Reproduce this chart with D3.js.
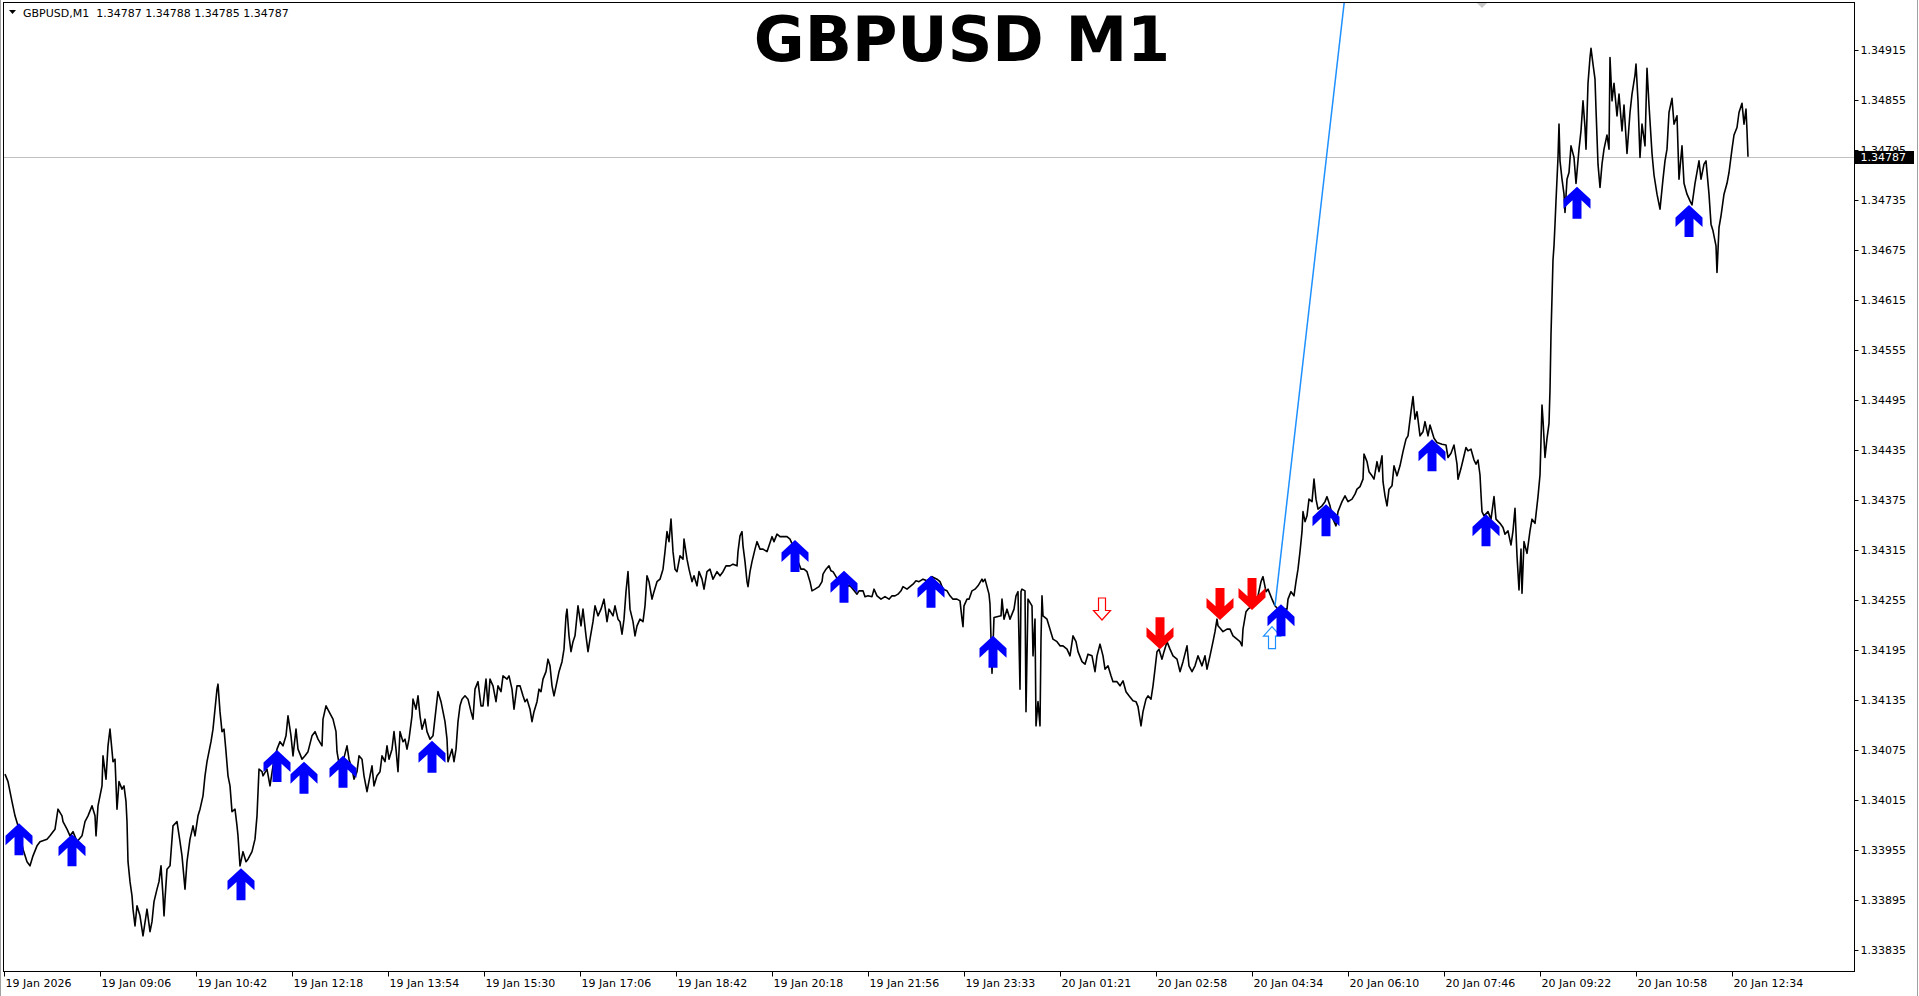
<!DOCTYPE html>
<head>
    <meta charset="utf-8">
    <script src="https://d3js.org/d3.v7.min.js"></script>
    <style>
        html, body { margin: 0; padding: 0; background: #fff; }
        svg { display: block; }
        text { font-family: "DejaVu Sans", sans-serif; }
        .axis text { font-size: 11px; fill: #000; }
        .axis line { stroke: #000; }
    </style>
</head>
<body>
<svg width="1919" height="996"></svg>
<script>
    // header / title
    var symbolName = "GBPUSD,M1";
    var lastQuote = ["1.34787", "1.34788", "1.34785", "1.34787"];
    var chartTitle = "GBPUSD M1";
    var lastPrice = 1.34787;

    // right price scale
    var priceTicks = [1.34915, 1.34855, 1.34795, 1.34735, 1.34675, 1.34615, 1.34555, 1.34495, 1.34435,
        1.34375, 1.34315, 1.34255, 1.34195, 1.34135, 1.34075, 1.34015, 1.33955, 1.33895, 1.33835];

    // time scale: bars counted in minutes from the first bar
    var timeTickBars = [0, 96, 192, 288, 384, 480, 576, 672, 768, 864, 960, 1056, 1152, 1248, 1344, 1440, 1536, 1632, 1728];
    var timeLabels = ["19 Jan 2026", "19 Jan 09:06", "19 Jan 10:42", "19 Jan 12:18", "19 Jan 13:54", "19 Jan 15:30",
        "19 Jan 17:06", "19 Jan 18:42", "19 Jan 20:18", "19 Jan 21:56", "19 Jan 23:33", "20 Jan 01:21",
        "20 Jan 02:58", "20 Jan 04:34", "20 Jan 06:10", "20 Jan 07:46", "20 Jan 09:22", "20 Jan 10:58", "20 Jan 12:34"];

    // close prices [bar, price]
    var closeSeries = [
        [1,1.34046],[4,1.34037],[8,1.34013],[11,1.33996],[14,1.33984],[19,1.33956],[23,1.33941],[26,1.33936],[29,1.33948],[33,1.33960],
        [36,1.33965],[43,1.33968],[46,1.33972],[49,1.33977],[51,1.33980],[54,1.34004],[58,1.33996],[59,1.33989],[63,1.33980],[66,1.33972],
        [69,1.33977],[73,1.33965],[78,1.33972],[81,1.33989],[84,1.33996],[88,1.34008],[91,1.33996],[92,1.33972],[94,1.34008],[98,1.34032],
        [99,1.34068],[102,1.34040],[104,1.34080],[106,1.34100],[109,1.34061],[111,1.34064],[113,1.34004],[115,1.34037],[118,1.34028],[120,1.34032],
        [122,1.34013],[123,1.33989],[124,1.33941],[126,1.33917],[128,1.33900],[129,1.33884],[131,1.33864],[133,1.33888],[136,1.33876],[139,1.33852],
        [143,1.33884],[146,1.33857],[148,1.33869],[150,1.33893],[153,1.33908],[155,1.33917],[157,1.33936],[159,1.33900],[160,1.33876],[161,1.33896],
        [163,1.33932],[166,1.33936],[169,1.33984],[173,1.33989],[176,1.33965],[178,1.33948],[181,1.33908],[183,1.33941],[186,1.33968],[189,1.33984],
        [191,1.33972],[194,1.33996],[196,1.34004],[199,1.34020],[201,1.34044],[203,1.34061],[205,1.34073],[207,1.34085],[209,1.34100],[211,1.34124],
        [213,1.34148],[214,1.34154],[216,1.34121],[218,1.34097],[220,1.34100],[222,1.34073],[224,1.34044],[226,1.34032],[228,1.34001],[231,1.34004],
        [233,1.33984],[234,1.33972],[236,1.33936],[239,1.33953],[242,1.33941],[244,1.33944],[248,1.33953],[251,1.33968],[253,1.33996],[255,1.34052],
        [258,1.34049],[259,1.34044],[263,1.34052],[266,1.34032],[269,1.34056],[273,1.34076],[276,1.34085],[279,1.34080],[282,1.34092],[284,1.34116],
        [287,1.34092],[289,1.34068],[292,1.34100],[294,1.34076],[298,1.34064],[301,1.34068],[304,1.34073],[308,1.34092],[311,1.34097],[314,1.34088],
        [318,1.34080],[319,1.34112],[322,1.34128],[325,1.34121],[329,1.34112],[332,1.34097],[333,1.34073],[336,1.34052],[339,1.34061],[343,1.34080],
        [345,1.34064],[348,1.34052],[350,1.34040],[353,1.34049],[355,1.34068],[358,1.34064],[360,1.34044],[363,1.34025],[366,1.34044],[368,1.34056],
        [370,1.34032],[373,1.34044],[376,1.34049],[378,1.34068],[381,1.34061],[383,1.34080],[385,1.34064],[388,1.34076],[390,1.34097],[392,1.34076],
        [394,1.34049],[396,1.34097],[399,1.34085],[401,1.34088],[403,1.34076],[405,1.34088],[408,1.34116],[409,1.34136],[412,1.34124],[414,1.34140],
        [416,1.34116],[418,1.34100],[421,1.34112],[423,1.34097],[426,1.34088],[429,1.34092],[432,1.34124],[434,1.34145],[437,1.34133],[439,1.34121],
        [441,1.34109],[443,1.34088],[444,1.34061],[448,1.34076],[450,1.34061],[452,1.34076],[454,1.34109],[456,1.34128],[458,1.34136],[461,1.34140],
        [464,1.34136],[467,1.34121],[469,1.34112],[471,1.34148],[474,1.34157],[477,1.34128],[479,1.34128],[482,1.34160],[484,1.34128],[486,1.34160],
        [489,1.34152],[492,1.34133],[494,1.34152],[497,1.34145],[499,1.34164],[503,1.34160],[505,1.34164],[508,1.34148],[510,1.34124],[513,1.34152],
        [516,1.34152],[519,1.34140],[521,1.34133],[523,1.34136],[526,1.34124],[528,1.34109],[530,1.34121],[533,1.34133],[535,1.34148],[537,1.34145],
        [539,1.34160],[542,1.34169],[544,1.34184],[546,1.34176],[548,1.34152],[550,1.34140],[553,1.34157],[555,1.34169],[558,1.34181],[560,1.34196],
        [562,1.34236],[563,1.34244],[565,1.34212],[567,1.34193],[569,1.34205],[571,1.34212],[574,1.34248],[577,1.34224],[579,1.34244],[582,1.34212],
        [584,1.34193],[586,1.34208],[589,1.34229],[591,1.34248],[594,1.34236],[597,1.34244],[600,1.34256],[603,1.34229],[605,1.34244],[609,1.34236],
        [611,1.34248],[614,1.34232],[616,1.34229],[618,1.34214],[620,1.34232],[622,1.34265],[624,1.34289],[626,1.34244],[629,1.34229],[631,1.34212],
        [633,1.34224],[636,1.34232],[639,1.34229],[641,1.34248],[643,1.34284],[645,1.34277],[648,1.34256],[650,1.34265],[653,1.34277],[656,1.34280],
        [659,1.34292],[661,1.34313],[663,1.34337],[665,1.34325],[667,1.34352],[669,1.34313],[671,1.34292],[673,1.34289],[676,1.34308],[679,1.34304],
        [680,1.34328],[683,1.34304],[685,1.34292],[688,1.34277],[690,1.34284],[693,1.34272],[695,1.34289],[698,1.34280],[700,1.34268],[703,1.34289],
        [706,1.34292],[709,1.34280],[713,1.34289],[716,1.34284],[719,1.34289],[722,1.34296],[726,1.34296],[729,1.34298],[733,1.34296],[734,1.34313],
        [736,1.34332],[738,1.34337],[739,1.34320],[741,1.34301],[743,1.34277],[744,1.34271],[746,1.34289],[748,1.34301],[751,1.34316],[753,1.34325],
        [756,1.34316],[759,1.34316],[763,1.34313],[765,1.34320],[768,1.34331],[770,1.34325],[773,1.34334],[776,1.34331],[779,1.34331],[783,1.34331],
        [786,1.34328],[789,1.34320],[792,1.34308],[794,1.34301],[797,1.34292],[800,1.34292],[803,1.34289],[806,1.34277],[808,1.34266],[811,1.34268],
        [815,1.34271],[818,1.34277],[819,1.34286],[822,1.34292],[825,1.34296],[827,1.34290],[829,1.34289],[832,1.34283],[836,1.34277],[839,1.34274],
        [843,1.34272],[846,1.34272],[849,1.34268],[853,1.34262],[855,1.34266],[859,1.34266],[861,1.34259],[864,1.34260],[868,1.34259],[870,1.34268],
        [873,1.34260],[877,1.34256],[881,1.34259],[885,1.34256],[888,1.34260],[891,1.34260],[894,1.34262],[897,1.34266],[899,1.34271],[903,1.34268],
        [906,1.34271],[909,1.34274],[912,1.34278],[915,1.34277],[919,1.34280],[923,1.34278],[928,1.34283],[933,1.34280],[936,1.34277],[939,1.34268],
        [943,1.34266],[946,1.34260],[949,1.34256],[953,1.34256],[956,1.34254],[958,1.34232],[959,1.34223],[960,1.34248],[963,1.34256],[965,1.34256],
        [968,1.34266],[971,1.34268],[974,1.34272],[978,1.34280],[979,1.34277],[981,1.34280],[983,1.34271],[985,1.34262],[986,1.34250],[988,1.34167],
        [990,1.34234],[997,1.34236],[998,1.34256],[1000,1.34232],[1003,1.34244],[1006,1.34232],[1010,1.34244],[1012,1.34260],[1014,1.34265],[1016,1.34148],
        [1017,1.34265],[1018,1.34268],[1021,1.34266],[1022,1.34121],[1024,1.34256],[1028,1.34248],[1029,1.34188],[1031,1.34232],[1032,1.34104],[1034,1.34133],
        [1036,1.34104],[1037,1.34208],[1038,1.34260],[1039,1.34236],[1043,1.34232],[1046,1.34220],[1049,1.34208],[1053,1.34205],[1056,1.34200],[1059,1.34200],
        [1063,1.34196],[1066,1.34188],[1069,1.34212],[1072,1.34205],[1074,1.34193],[1078,1.34181],[1081,1.34178],[1084,1.34190],[1088,1.34188],[1091,1.34169],
        [1093,1.34188],[1096,1.34202],[1099,1.34188],[1101,1.34172],[1104,1.34176],[1107,1.34164],[1109,1.34157],[1113,1.34157],[1116,1.34152],[1119,1.34158],
        [1122,1.34145],[1125,1.34140],[1129,1.34134],[1132,1.34133],[1134,1.34127],[1137,1.34104],[1139,1.34121],[1142,1.34136],[1144,1.34140],[1147,1.34136],
        [1149,1.34152],[1151,1.34172],[1153,1.34193],[1155,1.34196],[1158,1.34184],[1160,1.34193],[1163,1.34205],[1166,1.34196],[1169,1.34188],[1173,1.34184],
        [1176,1.34169],[1179,1.34181],[1183,1.34200],[1185,1.34176],[1188,1.34169],[1191,1.34176],[1194,1.34188],[1198,1.34176],[1201,1.34188],[1203,1.34172],
        [1206,1.34188],[1209,1.34205],[1211,1.34217],[1213,1.34232],[1214,1.34224],[1217,1.34220],[1219,1.34217],[1223,1.34220],[1226,1.34220],[1229,1.34212],
        [1233,1.34208],[1236,1.34205],[1238,1.34200],[1239,1.34220],[1242,1.34241],[1244,1.34244],[1248,1.34248],[1251,1.34253],[1254,1.34260],[1257,1.34277],
        [1259,1.34283],[1262,1.34265],[1264,1.34268],[1268,1.34256],[1271,1.34248],[1274,1.34244],[1279,1.34244],[1283,1.34244],[1284,1.34256],[1287,1.34265],
        [1290,1.34260],[1292,1.34277],[1294,1.34292],[1296,1.34313],[1298,1.34337],[1299,1.34361],[1301,1.34349],[1303,1.34356],[1305,1.34376],[1308,1.34373],
        [1310,1.34400],[1312,1.34376],[1314,1.34364],[1318,1.34368],[1321,1.34373],[1323,1.34379],[1326,1.34368],[1329,1.34352],[1332,1.34344],[1334,1.34361],
        [1338,1.34373],[1341,1.34380],[1344,1.34373],[1348,1.34376],[1351,1.34382],[1353,1.34388],[1356,1.34391],[1359,1.34400],[1360,1.34430],[1363,1.34421],
        [1365,1.34409],[1368,1.34404],[1370,1.34400],[1373,1.34421],[1375,1.34409],[1378,1.34428],[1379,1.34397],[1381,1.34380],[1383,1.34368],[1385,1.34388],
        [1388,1.34392],[1390,1.34416],[1393,1.34404],[1396,1.34416],[1399,1.34433],[1402,1.34448],[1404,1.34452],[1407,1.34481],[1409,1.34499],[1411,1.34472],
        [1413,1.34481],[1416,1.34452],[1419,1.34457],[1421,1.34469],[1424,1.34452],[1426,1.34465],[1430,1.34449],[1433,1.34444],[1438,1.34442],[1442,1.34441],
        [1444,1.34426],[1447,1.34431],[1450,1.34441],[1453,1.34418],[1454,1.34400],[1457,1.34413],[1459,1.34423],[1462,1.34438],[1464,1.34434],[1467,1.34436],
        [1470,1.34423],[1472,1.34418],[1474,1.34423],[1476,1.34405],[1477,1.34382],[1478,1.34361],[1480,1.34356],[1484,1.34361],[1487,1.34352],[1490,1.34379],
        [1492,1.34352],[1496,1.34347],[1499,1.34342],[1501,1.34334],[1504,1.34338],[1507,1.34321],[1509,1.34338],[1511,1.34365],[1513,1.34308],[1515,1.34267],
        [1517,1.34316],[1518,1.34263],[1520,1.34325],[1523,1.34311],[1526,1.34338],[1528,1.34352],[1531,1.34347],[1534,1.34379],[1536,1.34405],[1538,1.34489],
        [1539,1.34471],[1541,1.34426],[1543,1.34449],[1545,1.34467],[1546,1.34507],[1547,1.34574],[1548,1.34618],[1549,1.34663],[1550,1.34680],[1551,1.34706],
        [1552,1.34734],[1553,1.34760],[1554,1.34786],[1555,1.34826],[1556,1.34782],[1558,1.34760],[1560,1.34742],[1561,1.34720],[1563,1.34760],[1565,1.34768],
        [1567,1.34800],[1570,1.34786],[1572,1.34755],[1575,1.34796],[1577,1.34818],[1579,1.34854],[1581,1.34822],[1582,1.34796],[1584,1.34875],[1586,1.34906],
        [1587,1.34917],[1589,1.34898],[1591,1.34880],[1592,1.34844],[1594,1.34778],[1596,1.34750],[1598,1.34778],[1600,1.34796],[1603,1.34813],[1605,1.34796],
        [1606,1.34906],[1608,1.34854],[1610,1.34875],[1613,1.34836],[1615,1.34862],[1618,1.34818],[1620,1.34849],[1623,1.34791],[1626,1.34840],[1628,1.34862],
        [1631,1.34885],[1632,1.34898],[1634,1.34854],[1636,1.34786],[1638,1.34826],[1641,1.34800],[1643,1.34893],[1645,1.34849],[1648,1.34791],[1650,1.34765],
        [1653,1.34742],[1656,1.34724],[1659,1.34760],[1661,1.34782],[1663,1.34796],[1665,1.34840],[1668,1.34857],[1670,1.34826],[1673,1.34836],[1675,1.34760],
        [1678,1.34800],[1680,1.34755],[1683,1.34742],[1686,1.34734],[1688,1.34729],[1691,1.34755],[1695,1.34782],[1697,1.34760],[1700,1.34778],[1702,1.34782],
        [1705,1.34742],[1707,1.34706],[1709,1.34698],[1712,1.34680],[1713,1.34648],[1715,1.34702],[1717,1.34716],[1720,1.34742],[1723,1.34755],[1725,1.34768],
        [1728,1.34796],[1730,1.34813],[1733,1.34822],[1735,1.34840],[1738,1.34851],[1740,1.34826],[1742,1.34844],[1743,1.34818],[1744,1.34787]
    ];

    // signal arrows [bar, price at arrow tip]
    var buySignals = [[15,1.33987],[68,1.33974],[237,1.33933],[273,1.34075],[300,1.34061],[339,1.34068],[428,1.34086],
        [791,1.34327],[840,1.34290],[927,1.34284],[989,1.34212],[1277,1.34250],[1322,1.34370],[1428,1.34448],
        [1482,1.34358],[1573,1.34751],[1685,1.34729]];
    var sellSignals = [[1156,1.34196],[1216,1.34231],[1248,1.34243]];
    var hollowSell = [[1098,1.34231]];
    var hollowBuy = [[1268,1.34223]];

    // trend line [bar, price]
    var trendLine = [[1271,1.34248],[1297,1.34520]];

    var frame = {left: 3.5, top: 2.5, right: 1854.5, bottom: 971.5};

    var svg = d3.select("svg");

    var x = d3.scaleLinear().domain([0, 1728]).range([4, 1732]);
    var y = d3.scaleLinear().domain([1.33835, 1.34915]).range([950, 50]);

    // window borders
    svg.append("line").attr("x1", 0.5).attr("x2", 0.5).attr("y1", 0).attr("y2", 996).attr("stroke", "#a0a0a0");
    svg.append("line").attr("x1", 1917.5).attr("x2", 1917.5).attr("y1", 0).attr("y2", 996).attr("stroke", "#a0a0a0");

    svg.append("clipPath").attr("id", "plot")
        .append("rect")
        .attr("x", frame.left + 0.5).attr("y", frame.top + 0.5)
        .attr("width", frame.right - frame.left - 1).attr("height", frame.bottom - frame.top - 1);

    var g = svg.append("g").attr("clip-path", "url(#plot)");

    // bid line
    g.append("line")
        .attr("x1", frame.left).attr("x2", frame.right)
        .attr("y1", Math.round(y(lastPrice)) + 0.5).attr("y2", Math.round(y(lastPrice)) + 0.5)
        .attr("stroke", "#c0c0c0");

    // price line
    var line = d3.line()
        .x(function(d) { return x(d[0]); })
        .y(function(d) { return y(d[1]); });

    g.append("path")
        .datum(closeSeries)
        .attr("d", line)
        .attr("fill", "none")
        .attr("stroke", "#000")
        .attr("stroke-width", 1.6)
        .attr("stroke-linejoin", "round");

    // trend line, extended up to the frame
    var tx1 = x(trendLine[0][0]), ty1 = y(trendLine[0][1]);
    var tx2 = x(trendLine[1][0]), ty2 = y(trendLine[1][1]);
    var txTop = tx1 + (frame.top - ty1) * (tx2 - tx1) / (ty2 - ty1);
    g.append("line")
        .attr("x1", tx1).attr("y1", ty1)
        .attr("x2", txTop).attr("y2", frame.top)
        .attr("stroke", "#1e90ff")
        .attr("stroke-width", 1.5);

    // arrow shapes, tip at 0,0 pointing up
    var solidArrow = "M0,0L13.5,12.5L13.5,22L4.5,13.7L4.5,32L-4.5,32L-4.5,13.7L-13.5,22L-13.5,12.5Z";
    var hollowArrow = "M0,0L8.5,9.5L3.5,9.5L3.5,22L-3.5,22L-3.5,9.5L-8.5,9.5Z";

    g.selectAll(".hollowBuy")
        .data(hollowBuy)
        .enter().append("path")
        .attr("class", "hollowBuy")
        .attr("d", hollowArrow)
        .attr("transform", function(d) { return "translate(" + x(d[0]) + "," + y(d[1]) + ")"; })
        .attr("fill", "#fff").attr("stroke", "#1e90ff").attr("stroke-width", 1.2);

    g.selectAll(".hollowSell")
        .data(hollowSell)
        .enter().append("path")
        .attr("class", "hollowSell")
        .attr("d", hollowArrow)
        .attr("transform", function(d) { return "translate(" + x(d[0]) + "," + y(d[1]) + ") scale(1,-1)"; })
        .attr("fill", "#fff").attr("stroke", "#ff0000").attr("stroke-width", 1.2);

    g.selectAll(".buy")
        .data(buySignals)
        .enter().append("path")
        .attr("class", "buy")
        .attr("d", solidArrow)
        .attr("transform", function(d) { return "translate(" + x(d[0]) + "," + y(d[1]) + ")"; })
        .attr("fill", "#0000ff");

    g.selectAll(".sell")
        .data(sellSignals)
        .enter().append("path")
        .attr("class", "sell")
        .attr("d", solidArrow)
        .attr("transform", function(d) { return "translate(" + x(d[0]) + "," + y(d[1]) + ") scale(1,-1)"; })
        .attr("fill", "#ff0000");

    // frame
    svg.append("rect")
        .attr("x", frame.left).attr("y", frame.top)
        .attr("width", frame.right - frame.left).attr("height", frame.bottom - frame.top)
        .attr("fill", "none").attr("stroke", "#000");

    // shift marker
    svg.append("path")
        .attr("d", "M1477,3L1487,3L1482,8Z")
        .attr("fill", "#c8c8c8");

    // price axis
    var yAxis = svg.append("g")
        .attr("class", "axis")
        .attr("transform", "translate(" + frame.right + ",0)")
        .call(d3.axisRight(y).tickValues(priceTicks).tickSize(4).tickPadding(2).tickFormat(d3.format(".5f")));
    yAxis.select(".domain").remove();
    yAxis.selectAll("text").attr("font-family", "DejaVu Sans");

    // time axis
    var xAxis = svg.append("g")
        .attr("class", "axis")
        .attr("transform", "translate(0," + frame.bottom + ")")
        .call(d3.axisBottom(x).tickValues(timeTickBars).tickSize(5).tickPadding(3)
            .tickFormat(function(d, i) { return timeLabels[i]; }));
    xAxis.select(".domain").remove();
    xAxis.selectAll("text")
        .attr("text-anchor", "start")
        .attr("x", 1)
        .attr("font-family", "DejaVu Sans");

    // last price label
    var py = Math.round(y(lastPrice));
    svg.append("rect")
        .attr("x", frame.right + 0.5).attr("y", py - 6)
        .attr("width", 59).attr("height", 13)
        .attr("fill", "#000");
    svg.append("text")
        .attr("x", frame.right + 6).attr("y", py + 0.5)
        .attr("dy", "0.35em")
        .attr("fill", "#fff")
        .style("font-size", "11px")
        .text(d3.format(".5f")(lastPrice));

    // header
    svg.append("path").attr("d", "M9,10L16,10L12.5,14Z").attr("fill", "#000");
    svg.append("text")
        .attr("x", 23).attr("y", 16.5)
        .style("font-size", "11px")
        .attr("fill", "#000")
        .attr("xml:space", "preserve")
        .text(symbolName + "  " + lastQuote.join(" "));

    svg.append("text")
        .attr("x", 962).attr("y", 61)
        .attr("text-anchor", "middle")
        .style("font-size", "62px")
        .style("font-weight", "bold")
        .attr("fill", "#000")
        .text(chartTitle);
</script>
</body>
